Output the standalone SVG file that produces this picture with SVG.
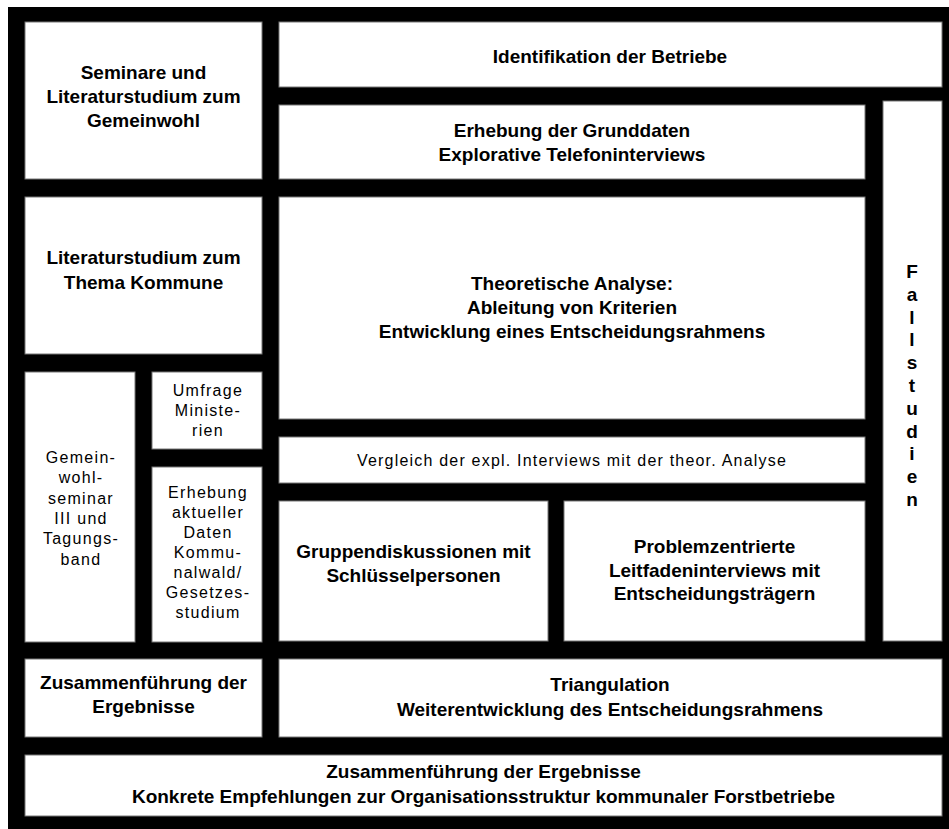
<svg xmlns="http://www.w3.org/2000/svg" width="949" height="829" viewBox="0 0 949 829">
<style>
.box{fill:#fff;stroke:#777;stroke-width:1}
.b{font-family:"Liberation Sans",Arial,sans-serif;font-weight:bold;font-size:19px;letter-spacing:0px;text-anchor:middle;fill:#000}
.r{font-family:"Liberation Sans",Arial,sans-serif;font-size:16px;letter-spacing:1.3px;text-anchor:middle;fill:#000}
</style>
<rect x="0" y="0" width="949" height="829" fill="#fff"/>
<rect x="8" y="7" width="941" height="822" fill="#000"/>
<g id="n-seminare"><rect class="box" x="25" y="22" width="237" height="157"/>
<text class="b" x="143.5" y="79">Seminare und</text>
<text class="b" x="143.5" y="103">Literaturstudium zum</text>
<text class="b" x="143.5" y="127">Gemeinwohl</text></g>
<g id="n-identifikation"><rect class="box" x="279" y="22" width="663" height="65"/>
<text class="b" x="610" y="63">Identifikation der Betriebe</text></g>
<g id="n-erhebung"><rect class="box" x="279" y="105" width="586" height="74"/>
<text class="b" x="572" y="137">Erhebung der Grunddaten</text>
<text class="b" x="572" y="161">Explorative Telefoninterviews</text></g>
<g id="n-fallstudien"><rect class="box" x="883" y="101" width="59" height="540"/>
<text class="b" x="912" y="278">F<tspan x="912" dy="22.8">a</tspan><tspan x="912" dy="22.8">l</tspan><tspan x="912" dy="22.8">l</tspan><tspan x="912" dy="22.8">s</tspan><tspan x="912" dy="22.8">t</tspan><tspan x="912" dy="22.8">u</tspan><tspan x="912" dy="22.8">d</tspan><tspan x="912" dy="22.8">i</tspan><tspan x="912" dy="22.8">e</tspan><tspan x="912" dy="22.8">n</tspan></text></g>
<g id="n-kommune"><rect class="box" x="25" y="197" width="237" height="157"/>
<text class="b" x="143.5" y="264">Literaturstudium zum</text>
<text class="b" x="143.5" y="289">Thema Kommune</text></g>
<g id="n-theoretische"><rect class="box" x="279" y="197" width="586" height="222"/>
<text class="b" x="572" y="290">Theoretische Analyse:</text>
<text class="b" x="572" y="314">Ableitung von Kriterien</text>
<text class="b" x="572" y="338">Entwicklung eines Entscheidungsrahmens</text></g>
<g id="n-gemeinwohlseminar"><rect class="box" x="25" y="372" width="110" height="270"/>
<text class="r" x="81" y="463">Gemein-</text>
<text class="r" x="81" y="483">wohl-</text>
<text class="r" x="81" y="504">seminar</text>
<text class="r" x="81" y="524">III und</text>
<text class="r" x="81" y="544">Tagungs-</text>
<text class="r" x="81" y="565">band</text></g>
<g id="n-umfrage"><rect class="box" x="152" y="372" width="110" height="77"/>
<text class="r" x="208" y="396">Umfrage</text>
<text class="r" x="208" y="416">Ministe-</text>
<text class="r" x="208" y="436">rien</text></g>
<g id="n-erhebung-aktuell"><rect class="box" x="152" y="467" width="110" height="175"/>
<text class="r" x="208" y="498">Erhebung</text>
<text class="r" x="208" y="518">aktueller</text>
<text class="r" x="208" y="538">Daten</text>
<text class="r" x="208" y="558">Kommu-</text>
<text class="r" x="208" y="578">nalwald/</text>
<text class="r" x="208" y="598">Gesetzes-</text>
<text class="r" x="208" y="618">studium</text></g>
<g id="n-vergleich"><rect class="box" x="279" y="437" width="586" height="46"/>
<text class="r" x="572" y="466" style="font-size:16px;letter-spacing:1.2px">Vergleich der expl. Interviews mit der theor. Analyse</text></g>
<g id="n-gruppen"><rect class="box" x="279" y="501" width="269" height="140"/>
<text class="b" x="413.5" y="558">Gruppendiskussionen mit</text>
<text class="b" x="413.5" y="582">Schlüsselpersonen</text></g>
<g id="n-problem"><rect class="box" x="564" y="501" width="301" height="140"/>
<text class="b" x="714.5" y="553">Problemzentrierte</text>
<text class="b" x="714.5" y="577">Leitfadeninterviews mit</text>
<text class="b" x="714.5" y="600">Entscheidungsträgern</text></g>
<g id="n-zusammen-links"><rect class="box" x="25" y="659" width="237" height="78"/>
<text class="b" x="143.5" y="689">Zusammenführung der</text>
<text class="b" x="143.5" y="713">Ergebnisse</text></g>
<g id="n-triangulation"><rect class="box" x="279" y="659" width="663" height="78"/>
<text class="b" x="610" y="691">Triangulation</text>
<text class="b" x="610" y="716">Weiterentwicklung des Entscheidungsrahmens</text></g>
<g id="n-ergebnis"><rect class="box" x="25" y="755" width="917" height="61"/>
<text class="b" x="483.5" y="778">Zusammenführung der Ergebnisse</text>
<text class="b" x="483.5" y="803">Konkrete Empfehlungen zur Organisationsstruktur kommunaler Forstbetriebe</text></g>
<g id="connectors"></g>
</svg>
